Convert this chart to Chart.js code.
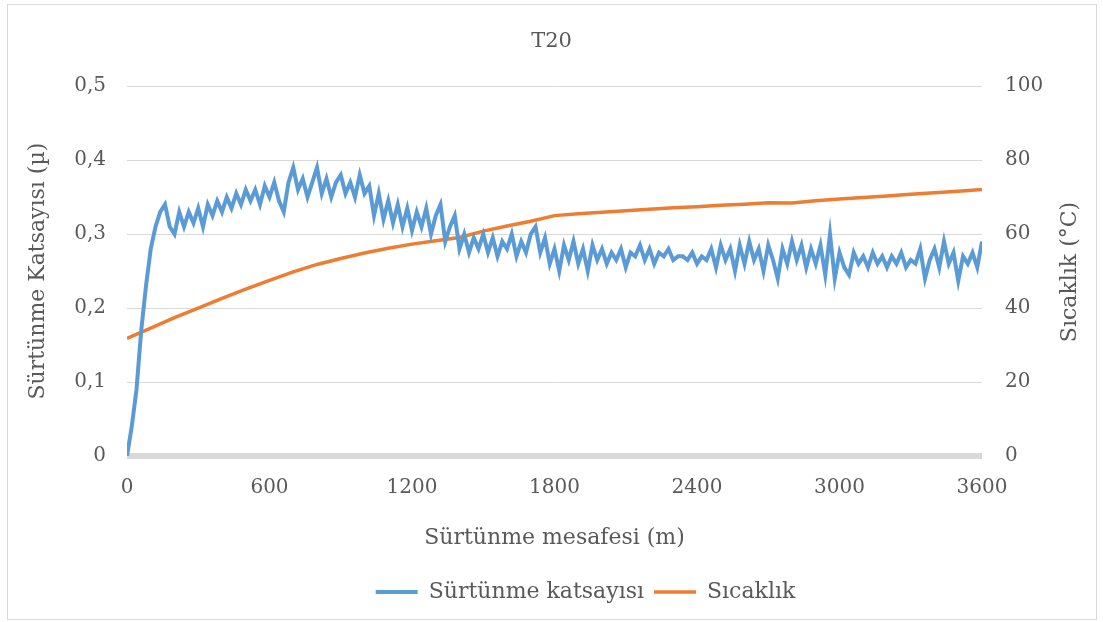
<!DOCTYPE html>
<html><head><meta charset="utf-8">
<script src="https://cdn.jsdelivr.net/npm/chart.js@4/dist/chart.umd.min.js"></script>
<style>
html,body{margin:0;padding:0;background:#fff;overflow:hidden}
#wrap{position:relative;width:1103px;height:622px}
#frame{position:absolute;left:7px;top:4px;width:1088px;height:614px;border:1px solid #d9d9d9;pointer-events:none}
</style></head><body>
<div id="wrap"><canvas id="c" width="1103" height="622"></canvas><div id="frame"></div></div>
<script>
const chartTitle = 'T20';
const xTitle = 'Sürtünme mesafesi (m)';
const yLeftTitle = 'Sürtünme Katsayısı (µ)';
const yRightTitle = 'Sıcaklık (°C)';
const seriesNames = ['Sürtünme katsayısı', 'Sıcaklık'];
const xTicks = [0, 600, 1200, 1800, 2400, 3000, 3600];
const yLeftTicks = [0, 0.1, 0.2, 0.3, 0.4, 0.5];
const yRightTicks = [0, 20, 40, 60, 80, 100];

// friction coefficient, every 20 m from 0 to 3600 m
const frictionStep = 20;
const friction = [
0.00,0.04,0.09,0.17,0.23,0.28,0.31,0.33,0.34,0.31,
0.30,0.33,0.31,0.33,0.315,0.335,0.31,0.34,0.325,0.345,
0.33,0.35,0.335,0.355,0.34,0.36,0.345,0.36,0.34,0.365,
0.35,0.37,0.345,0.33,0.37,0.39,0.36,0.375,0.35,0.37,
0.39,0.355,0.375,0.35,0.37,0.38,0.355,0.37,0.35,0.38,
0.355,0.365,0.325,0.355,0.32,0.345,0.315,0.34,0.31,0.335,
0.305,0.33,0.31,0.335,0.30,0.325,0.34,0.29,0.31,0.325,
0.28,0.30,0.275,0.295,0.28,0.30,0.275,0.295,0.27,0.29,
0.28,0.30,0.27,0.29,0.275,0.30,0.31,0.275,0.295,0.26,
0.28,0.25,0.285,0.265,0.29,0.26,0.28,0.25,0.285,0.265,
0.28,0.26,0.275,0.265,0.28,0.255,0.275,0.27,0.285,0.265,
0.28,0.26,0.275,0.27,0.28,0.265,0.27,0.27,0.265,0.275,
0.26,0.27,0.265,0.28,0.255,0.285,0.265,0.28,0.25,0.285,
0.26,0.29,0.265,0.28,0.25,0.285,0.265,0.24,0.28,0.26,
0.29,0.265,0.285,0.255,0.28,0.26,0.285,0.245,0.30,0.24,
0.275,0.255,0.245,0.275,0.26,0.27,0.255,0.275,0.26,0.27,
0.255,0.27,0.26,0.275,0.255,0.265,0.26,0.28,0.24,0.265,
0.28,0.255,0.29,0.26,0.275,0.237,0.27,0.26,0.275,0.255,
0.29
];

// temperature, every 100 m from 0 to 3600 m
const tempStep = 100;
const temperature = [
31.8,34.6,37.4,40.0,42.6,45.1,47.5,49.8,51.8,53.4,
54.9,56.2,57.3,58.2,59.1,60.8,62.2,63.5,65.0,65.5,
65.9,66.3,66.7,67.1,67.4,67.8,68.1,68.5,68.4,69.0,
69.5,69.9,70.3,70.8,71.2,71.6,72.1
];

const txt = '#595959';
const grid = '#d9d9d9';
const fam = '"DejaVu Serif", "Liberation Serif", serif';

const extrasPlugin = {
  id: 'extras',
  afterLayout(chart) {
    if (chart.legend) { chart.legend.left += 68; }
  },
  afterDraw(chart) {
    const ctx = chart.ctx;
    ctx.save();
    ctx.translate(1070, 272);
    ctx.rotate(-Math.PI / 2);
    ctx.font = '22px ' + fam;
    ctx.fillStyle = txt;
    ctx.textAlign = 'center';
    ctx.textBaseline = 'middle';
    ctx.fillText(yRightTitle, 0, 0);
    ctx.restore();
  }
};

new Chart(document.getElementById('c'), {
  type: 'line',
  data: {
    datasets: [
      {
        label: seriesNames[0],
        data: friction.map((v, i) => ({x: i * frictionStep, y: v})),
        borderColor: '#5b9bd5', backgroundColor: '#5b9bd5',
        borderWidth: 4, pointRadius: 0, tension: 0, yAxisID: 'y'
      },
      {
        label: seriesNames[1],
        data: temperature.map((v, i) => ({x: i * tempStep, y: v})),
        borderColor: '#ed7d31', backgroundColor: '#ed7d31',
        borderWidth: 3.5, pointRadius: 0, tension: 0, yAxisID: 'y1'
      }
    ]
  },
  options: {
    responsive: false,
    animation: false,
    layout: {padding: {left: 0, right: 0, top: 0, bottom: 9}},
    plugins: {
      tooltip: {enabled: false},
      title: {
        display: true, text: chartTitle, color: txt,
        font: {family: fam, size: 21, weight: 'normal', lineHeight: 1.2},
        padding: {top: 29, bottom: 32}
      },
      legend: {
        position: 'bottom',
        labels: {
          color: txt, font: {family: fam, size: 22},
          usePointStyle: true, pointStyle: 'line', pointStyleWidth: 42,
          padding: 10
        }
      }
    },
    scales: {
      x: {
        type: 'linear', min: 0, max: 3600,
        afterBuildTicks: (s) => { s.ticks = xTicks.map(v => ({value: v})); },
        afterFit: (s) => { s.height = 115; },
        grid: {display: false, drawTicks: false},
        border: {display: false},
        ticks: {color: txt, font: {family: fam, size: 20}, padding: 20, maxRotation: 0, autoSkip: false,
          callback: (v) => String(v)},
        title: {display: true, text: xTitle, color: txt, font: {family: fam, size: 22}, padding: {top: 0, bottom: 20}}
      },
      y: {
        position: 'left', min: 0, max: 0.5,
        afterBuildTicks: (s) => { s.ticks = yLeftTicks.map(v => ({value: v})); },
        afterFit: (s) => { s.width = 127; },
        grid: {
          color: grid, drawTicks: false,
          lineWidth: (c) => (c.tick && c.tick.value === 0 ? 6 : 1)
        },
        border: {display: false},
        ticks: {
          color: txt, font: {family: fam, size: 20}, padding: 21,
          callback: (v) => (v === 0 ? '0' : Number(v).toFixed(1).replace('.', ','))
        },
        title: {display: true, text: yLeftTitle, color: txt, font: {family: fam, size: 22}, padding: {top: 25, bottom: 0}}
      },
      y1: {
        position: 'right', min: 0, max: 100,
        afterBuildTicks: (s) => { s.ticks = yRightTicks.map(v => ({value: v})); },
        afterFit: (s) => { s.width = 121; },
        grid: {display: false, drawTicks: false},
        border: {display: false},
        ticks: {color: txt, font: {family: fam, size: 20}, padding: 23, callback: (v) => String(v)}
      }
    }
  },
  plugins: [extrasPlugin]
});
</script>
</body></html>
